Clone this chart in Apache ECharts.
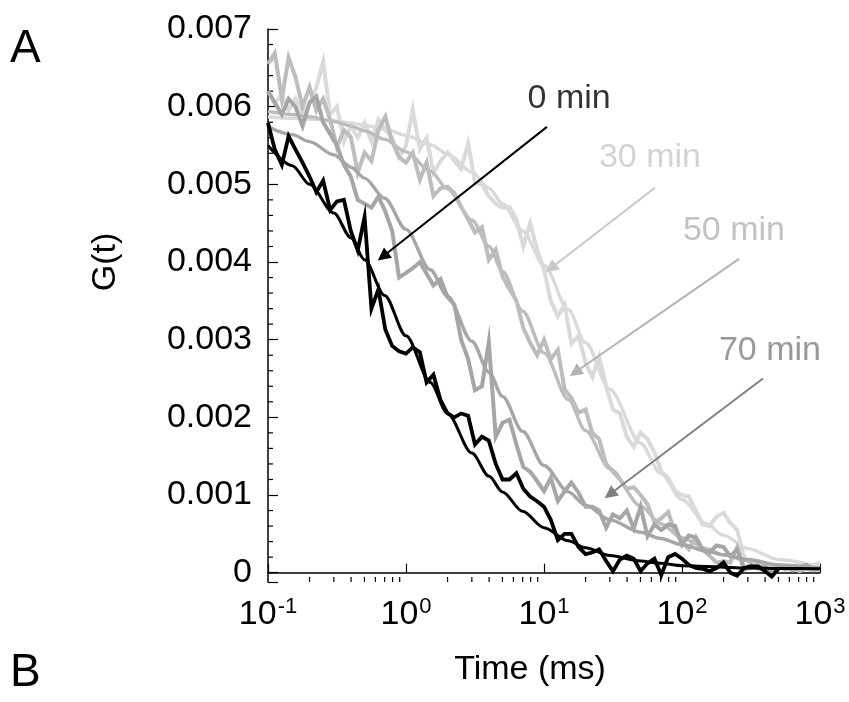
<!DOCTYPE html>
<html>
<head>
<meta charset="utf-8">
<script src="https://cdn.jsdelivr.net/npm/echarts@6/dist/echarts.min.js"></script>
<style>
  html, body { margin: 0; padding: 0; background: #fff; }
  #chart { width: 849px; height: 702px; }
</style>
</head>
<body>
<div id="chart"></div>
<script>
// lag times (ms), shared by the measured curves
var lagTimes = [0.1, 0.112, 0.126, 0.141, 0.158, 0.178, 0.2, 0.224, 0.251, 0.282,
  0.316, 0.355, 0.398, 0.447, 0.501, 0.562, 0.631, 0.708, 0.794, 0.891,
  1, 1.12, 1.26, 1.41, 1.58, 1.78, 2, 2.24, 2.51, 2.82,
  3.16, 3.55, 3.98, 4.47, 5.01, 5.62, 6.31, 7.08, 7.94, 8.91,
  10, 11.2, 12.6, 14.1, 15.8, 17.8, 20, 22.4, 25.1, 28.2,
  31.6, 35.5, 39.8, 44.7, 50.1, 56.2, 63.1, 70.8, 79.4, 89.1,
  100, 112, 126, 141, 158, 178, 200, 224, 251, 282,
  316, 355, 398, 447, 501, 562, 631, 708, 794, 891, 1000];

// measured G(t), units of 1e-3
var g0min = [5.79, 5.45, 5.25, 5.62, 5.45, 5.28, 5.10, 4.90, 5.05, 4.67,
  4.78, 4.80, 4.40, 4.15, 4.58, 3.40, 3.65, 3.13, 2.92, 2.85,
  2.82, 2.90, 2.84, 2.45, 2.55, 2.22, 2.05, 2.00, 2.05, 2.02,
  1.65, 1.75, 1.70, 1.40, 1.20, 1.20, 1.28, 1.08, 0.98, 0.92,
  0.85, 0.68, 0.42, 0.50, 0.50, 0.33, 0.24, 0.26, 0.30, 0.15,
  0.02, 0.17, 0.22, 0.18, 0.02, 0.12, 0.18, -0.03, 0.20, 0.24,
  0.18, 0.10, 0.06, 0.05, 0.02, 0.06, 0.13, 0.00, -0.04, 0.06,
  0.08, 0.08, 0.02, -0.05, 0.05];
var g30min = [6.20, 6.05, 6.15, 5.95, 6.10, 5.90, 6.05, 6.25, 6.58, 5.90,
  6.00, 5.55, 5.75, 5.60, 5.79, 5.55, 5.83, 5.70, 5.60, 5.35,
  5.50, 5.96, 5.45, 5.60, 5.15, 5.30, 5.41, 5.30, 5.20, 5.53,
  5.02, 5.00, 4.85, 4.75, 4.70, 4.71, 4.55, 4.20, 4.50, 4.16,
  3.90, 3.50, 3.30, 3.45, 2.95, 3.05, 2.70, 2.52, 2.78, 2.40,
  2.10, 2.05, 1.75, 1.62, 1.80, 1.72, 1.55, 1.30, 1.22, 1.05,
  1.00, 0.98, 0.80, 0.62, 0.60, 0.72, 0.77, 0.64, 0.55, 0.20,
  0.10, 0.04, 0.08, 0.05, 0.10, 0.06, 0.04, 0.12, 0.08, 0.10, 0.12];
var g50min = [6.55, 6.69, 6.10, 6.63, 6.38, 6.00, 6.25, 5.95, 6.10, 5.83,
  5.48, 5.70, 5.61, 5.15, 5.41, 5.30, 5.70, 5.87, 5.55, 5.35,
  5.28, 5.41, 5.06, 5.28, 4.85, 4.95, 4.97, 4.89, 4.71, 4.55,
  4.38, 4.45, 4.03, 4.16, 3.81, 3.65, 3.50, 3.15, 2.96, 2.80,
  3.00, 2.75, 2.87, 2.36, 2.25, 2.06, 2.10, 1.80, 1.72, 1.40,
  1.30, 1.20, 1.08, 1.10, 1.00, 0.88, 0.65, 0.70, 0.78, 0.52,
  0.40, 0.30, 0.46, 0.30, 0.22, 0.13, 0.15, 0.13, 0.33, 0.04,
  0.06, 0.10, 0.05, 0.02, 0.08, 0.04, 0.06, 0.02, 0.05, 0.03, 0.04];
var g70min = [6.20, 6.05, 5.90, 6.10, 6.00, 5.75, 6.05, 6.13, 5.80, 5.65,
  5.50, 5.25, 5.10, 4.80, 4.75, 4.70, 4.84, 4.65, 4.40, 3.80,
  3.86, 3.92, 4.00, 3.85, 3.70, 3.78, 3.55, 3.45, 3.00, 2.75,
  2.35, 2.40, 2.97, 1.75, 1.93, 1.97, 1.65, 1.36, 1.30, 1.18,
  1.05, 1.22, 0.92, 1.05, 1.16, 1.03, 0.85, 0.85, 0.80, 0.58,
  0.75, 0.70, 0.80, 0.57, 0.85, 0.47, 0.62, 0.55, 0.62, 0.60,
  0.36, 0.48, 0.45, 0.30, 0.26, 0.35, 0.33, 0.21, 0.30, 0.05,
  0.10, 0.06, 0.08, 0.02, 0.05, 0.08, 0.03, 0.06, 0.10, 0.05, 0.06];

// fitted curves: times (ms) and G(t) in units of 1e-3
var fitTime = [0.1, 0.15, 0.2, 0.3, 0.4, 0.5, 0.7, 1, 1.5, 2, 3, 4, 5, 7, 10, 15, 20, 30, 50, 70, 100, 150, 200, 300, 500, 1000];
var fit0 = [5.50, 5.24, 5.00, 4.63, 4.31, 4.03, 3.57, 3.05, 2.45, 2.05, 1.54, 1.24, 1.04, 0.79, 0.58, 0.41, 0.32, 0.22, 0.15, 0.12, 0.09, 0.08, 0.07, 0.06, 0.055, 0.05];
var fit30 = [5.87, 5.85, 5.84, 5.82, 5.79, 5.76, 5.71, 5.63, 5.51, 5.39, 5.16, 4.95, 4.75, 4.40, 3.96, 3.39, 2.96, 2.36, 1.67, 1.28, 0.94, 0.63, 0.48, 0.31, 0.17, 0.07];
var fit50 = [5.94, 5.90, 5.87, 5.81, 5.75, 5.69, 5.58, 5.42, 5.17, 4.94, 4.54, 4.20, 3.88, 3.37, 2.83, 2.23, 1.83, 1.34, 0.86, 0.63, 0.45, 0.31, 0.23, 0.15, 0.09, 0.05];
var fit70 = [5.74, 5.64, 5.55, 5.38, 5.22, 5.08, 4.82, 4.42, 3.90, 3.56, 2.98, 2.58, 2.27, 1.82, 1.38, 1.04, 0.87, 0.68, 0.52, 0.44, 0.36, 0.28, 0.23, 0.17, 0.10, 0.06];

// annotations (time ms, G in 1e-3)
var noteText = ['0 min', '30 min', '50 min', '70 min'];
var noteColors = ['#000000', '#c8c8c8', '#b3b3b3', '#808080'];
var noteAt = [[15.2, 6.11], [58.6, 5.35], [238, 4.40], [434, 2.86]];
var arrowFrom = [[10.5, 5.74], [63.7, 4.955], [259, 4.04], [386, 2.50]];
var arrowTo = [[0.68, 4.07], [11.2, 3.92], [16.8, 2.58], [30.0, 1.01]];

// minor tick positions
var xMinorTicks = [0.2, 0.3, 0.4, 0.5, 0.6, 0.7, 0.8, 0.9, 2, 3, 4, 5, 6, 7, 8, 9,
  20, 30, 40, 50, 60, 70, 80, 90, 200, 300, 400, 500, 600, 700, 800, 900];
var yMinorTicks = [0.2, 0.4, 0.6, 0.8, 1.2, 1.4, 1.6, 1.8, 2.2, 2.4, 2.6, 2.8,
  3.2, 3.4, 3.6, 3.8, 4.2, 4.4, 4.6, 4.8, 5.2, 5.4, 5.6, 5.8, 6.2, 6.4, 6.6, 6.8];

var yMin = -0.00012;
var FONT = 'Liberation Sans, Arial, sans-serif';

function pairs(xs, ys) {
  var out = [];
  for (var i = 0; i < ys.length; i++) out.push([xs[i], ys[i] / 1000]);
  return out;
}

function dataLine(name, values, color, width) {
  return {
    name: name, type: 'line', data: pairs(lagTimes, values),
    symbol: 'none', clip: false,
    lineStyle: { color: color, width: width, join: 'miter' }
  };
}
function fitLine(name, values, color, width) {
  return {
    name: name, type: 'line', data: pairs(fitTime, values),
    symbol: 'none', smooth: 0.3, smoothMonotone: 'x', clip: false,
    lineStyle: { color: color, width: width }
  };
}

var chart = echarts.init(document.getElementById('chart'));

var notes = noteText.map(function (t, i) {
  return {
    value: [noteAt[i][0], noteAt[i][1] / 1000],
    label: { formatter: t, color: noteColors[i] }
  };
});
var arrows = noteText.map(function (t, i) {
  var st = { lineStyle: { color: noteColors[i] }, itemStyle: { color: noteColors[i] } };
  return [
    Object.assign({ coord: [arrowFrom[i][0], arrowFrom[i][1] / 1000] }, st),
    Object.assign({ coord: [arrowTo[i][0], arrowTo[i][1] / 1000] }, st)
  ];
});

chart.setOption({
  animation: false,
  backgroundColor: '#ffffff',
  grid: { left: 268, right: 29, top: 29, bottom: 120 },
  xAxis: {
    type: 'log', logBase: 10, min: 0.1, max: 1000,
    axisLine: { lineStyle: { color: '#000', width: 1.5 } },
    axisTick: { inside: true, length: 9, lineStyle: { color: '#000', width: 1.2 } },
    splitLine: { show: false },
    axisLabel: {
      margin: 14,
      formatter: function (v) {
        return '{b|10}{e|' + Math.round(Math.log10(v)) + '}';
      },
      rich: {
        b: { fontSize: 34, fontFamily: FONT, color: '#000', lineHeight: 36, verticalAlign: 'bottom' },
        e: { fontSize: 22, fontFamily: FONT, color: '#000', lineHeight: 36, verticalAlign: 'top', padding: [0, 0, 0, 1] }
      }
    }
  },
  yAxis: {
    type: 'value', min: yMin, max: 0.007, splitNumber: 7,
    axisLine: { show: true, lineStyle: { color: '#000', width: 1.5 } },
    axisTick: { inside: true, length: 10, lineStyle: { color: '#000', width: 1.2 } },
    splitLine: { show: false },
    axisLabel: {
      margin: 16, fontSize: 34, fontFamily: FONT, color: '#000',
      padding: [0, 0, 5, 0],
      formatter: function (v) {
        if (v < -1e-9) return '';
        if (Math.abs(v) < 1e-9) return '0';
        return v.toFixed(3);
      }
    }
  },
  graphic: [
    { type: 'text', left: 10, top: 26, style: { text: 'A', fontSize: 46, fontFamily: FONT, fill: '#000' } },
    { type: 'text', left: 10, top: 650, style: { text: 'B', fontSize: 46, fontFamily: FONT, fill: '#000' } },
    { type: 'text', x: 106, y: 262, rotation: Math.PI / 2,
      style: { text: 'G(t)', fontSize: 34, fontFamily: FONT, fill: '#000', align: 'center', verticalAlign: 'middle' } },
    { type: 'text', x: 530, y: 670,
      style: { text: 'Time (ms)', fontSize: 34, fontFamily: FONT, fill: '#000', align: 'center', verticalAlign: 'middle' } }
  ],
  series: [
    fitLine('30 min fit', fit30, '#dadada', 3.4),
    dataLine('30 min', g30min, '#dadada', 4),
    fitLine('50 min fit', fit50, '#bdbdbd', 3.4),
    dataLine('50 min', g50min, '#bdbdbd', 4),
    fitLine('70 min fit', fit70, '#a6a6a6', 3.4),
    dataLine('70 min', g70min, '#a6a6a6', 4),
    dataLine('0 min', g0min, '#000000', 3.8),
    fitLine('0 min fit', fit0, '#000000', 3),
    {
      name: 'x minor ticks', type: 'custom', silent: true, clip: false,
      data: xMinorTicks.map(function (v) { return [v, yMin]; }),
      renderItem: function (params, api) {
        var p = api.coord([api.value(0), api.value(1)]);
        return { type: 'line', shape: { x1: p[0], y1: p[1], x2: p[0], y2: p[1] - 5 },
          style: { stroke: '#000', lineWidth: 1.2 } };
      }
    },
    {
      name: 'y minor ticks', type: 'custom', silent: true, clip: false,
      data: yMinorTicks.map(function (v) { return [0.1, v / 1000]; }),
      renderItem: function (params, api) {
        var p = api.coord([api.value(0), api.value(1)]);
        return { type: 'line', shape: { x1: p[0], y1: p[1], x2: p[0] + 5, y2: p[1] },
          style: { stroke: '#000', lineWidth: 1.2 } };
      }
    },
    {
      name: 'notes', type: 'scatter', symbolSize: 0, silent: true, clip: false,
      data: notes,
      label: { show: true, position: 'inside', fontSize: 34, fontFamily: FONT, textBorderWidth: 0 },
      markLine: {
        silent: true, animation: false,
        symbol: ['none', 'triangle'], symbolSize: 13,
        label: { show: false },
        lineStyle: { type: 'solid', width: 2 },
        data: arrows
      }
    }
  ]
});
</script>
</body>
</html>
